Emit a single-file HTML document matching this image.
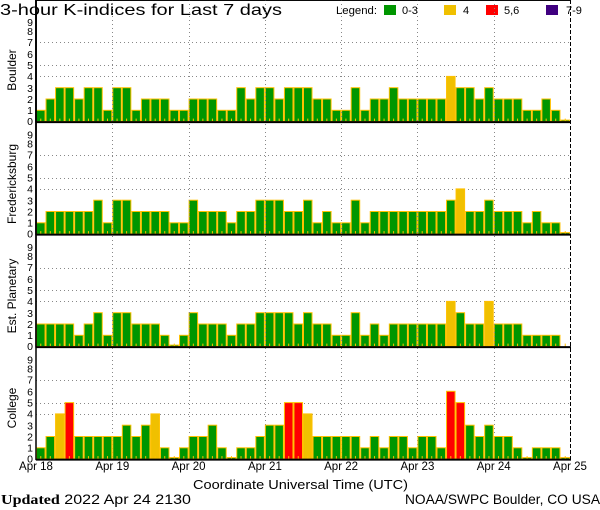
<!DOCTYPE html>
<html><head><meta charset="utf-8"><style>
html,body{margin:0;padding:0;background:#fff;}
svg{display:block;font-family:"Liberation Sans",sans-serif;}
</style></head><body>
<svg id="s" width="600" height="510" viewBox="0 0 600 510" xmlns="http://www.w3.org/2000/svg">
<rect width="600" height="510" fill="#fff"/>
<text x="0" y="15" font-size="16" fill="#000" textLength="282" lengthAdjust="spacingAndGlyphs">3-hour K-indices for Last 7 days</text>
<text x="336" y="14" font-size="11" fill="#000" textLength="41" lengthAdjust="spacingAndGlyphs">Legend:</text>
<rect x="384" y="5" width="12" height="10" fill="#009600"/><text x="402" y="14" font-size="11">0-3</text>
<rect x="444" y="5" width="12" height="10" fill="#f0c000"/><text x="463" y="14" font-size="11">4</text>
<rect x="486" y="5" width="12" height="10" fill="#ff0000"/><text x="504" y="14" font-size="11">5,6</text>
<rect x="546" y="5" width="12" height="10" fill="#400080"/><text x="566" y="14" font-size="11">7-9</text>
<g id="panels"></g>
<g font-size="11.5" text-anchor="middle">
<text x="36" y="470">Apr 18</text><text x="112.3" y="470">Apr 19</text><text x="188.6" y="470">Apr 20</text><text x="264.9" y="470">Apr 21</text><text x="341.1" y="470">Apr 22</text><text x="417.4" y="470">Apr 23</text><text x="493.7" y="470">Apr 24</text><text x="570" y="470">Apr 25</text>
</g>
<text x="193" y="489" font-size="13" textLength="215" lengthAdjust="spacingAndGlyphs">Coordinate Universal Time (UTC)</text>
<text x="1" y="504" font-size="13.5" textLength="190" lengthAdjust="spacingAndGlyphs"><tspan font-family="Liberation Serif,serif" font-weight="bold">Updated</tspan> 2022 Apr 24 2130</text>
<text x="405" y="504" font-size="13.5" textLength="195" lengthAdjust="spacingAndGlyphs">NOAA/SWPC Boulder, CO USA</text>
<g font-size="12" text-anchor="middle">
<text transform="translate(16,70) rotate(-90)">Boulder</text>
<text transform="translate(16,184) rotate(-90)">Fredericksburg</text>
<text transform="translate(16,296) rotate(-90)">Est. Planetary</text>
<text transform="translate(16,408) rotate(-90)">College</text>
</g>
<g id="yl" font-size="10.5" text-anchor="end">
<g transform="translate(0,0)"><text x="33" y="125">0</text><text x="33" y="114">1</text><text x="33" y="103">2</text><text x="33" y="92">3</text><text x="33" y="80">4</text><text x="33" y="69">5</text><text x="33" y="58">6</text><text x="33" y="46">7</text><text x="33" y="35">8</text><text x="33" y="26">9</text></g>
<g transform="translate(0,112.5)"><text x="33" y="125">0</text><text x="33" y="114">1</text><text x="33" y="103">2</text><text x="33" y="92">3</text><text x="33" y="80">4</text><text x="33" y="69">5</text><text x="33" y="58">6</text><text x="33" y="46">7</text><text x="33" y="35">8</text><text x="33" y="26">9</text></g>
<g transform="translate(0,225)"><text x="33" y="125">0</text><text x="33" y="114">1</text><text x="33" y="103">2</text><text x="33" y="92">3</text><text x="33" y="80">4</text><text x="33" y="69">5</text><text x="33" y="58">6</text><text x="33" y="46">7</text><text x="33" y="35">8</text><text x="33" y="26">9</text></g>
<g transform="translate(0,337.5)"><text x="33" y="125">0</text><text x="33" y="114">1</text><text x="33" y="103">2</text><text x="33" y="92">3</text><text x="33" y="80">4</text><text x="33" y="69">5</text><text x="33" y="58">6</text><text x="33" y="46">7</text><text x="33" y="35">8</text><text x="33" y="26">9</text></g>
</g>
</svg>
<script>
var D=[
[1,2,3,3,2,3,3,1, 3,3,1,2,2,2,1,1, 2,2,2,1,1,3,2,3, 3,2,3,3,3,2,2,1, 1,3,1,2,2,3,2,2, 2,2,2,4,3,3,2,3, 2,2,2,1,1,2,1,0],
[1,2,2,2,2,2,3,1, 3,3,2,2,2,2,1,1, 3,2,2,2,1,2,2,3, 3,3,2,2,3,1,2,1, 1,3,1,2,2,2,2,2, 2,2,2,3,4,2,2,3, 2,2,2,1,2,1,1,0],
[2,2,2,2,1,2,3,1, 3,3,2,2,2,1,0,1, 3,2,2,2,1,2,2,3, 3,3,3,2,3,2,2,1, 1,3,1,2,1,2,2,2, 2,2,2,4,3,2,2,4, 2,2,2,1,1,1,1,null],
[1,2,4,5,2,2,2,2, 2,3,2,3,4,1,0,1, 2,2,3,1,0,1,1,2, 3,3,5,5,4,2,2,2, 2,2,1,2,1,2,2,1, 2,2,1,6,5,3,2,3, 2,2,1,0,1,1,1,0]];
var NS="http://www.w3.org/2000/svg",g=document.getElementById("panels");
function el(t,a){var e=document.createElementNS(NS,t);for(var k in a)e.setAttribute(k,a[k]);g.appendChild(e);return e;}
var x0=36,x1=570,bw=(x1-x0)/56,u=11.3;
for(var p=0;p<4;p++){
 var base=121.6+p*112.5,top=base-9*u;
 [4,5,7].forEach(function(v){var y=Math.round(base-v*u)+0.5;el("line",{x1:x0,x2:x1,y1:y,y2:y,stroke:"#888","stroke-width":1,"stroke-dasharray":"1,3"});});
 for(var d=1;d<7;d++){var x=Math.round(x0+d*76.29)+0.5;el("line",{x1:x,x2:x,y1:top,y2:base,stroke:"#888","stroke-width":1,"stroke-dasharray":"1,3"});}
 for(var i=0;i<56;i++){
  var v=D[p][i],x=x0+i*bw;
  if(v!==null){
   var h=v==0?1.5:v*u;
   var c=v<=3?"#009600":v==4?"#f0c000":v<=6?"#ff0000":"#400080";
   el("rect",{x:x+0.5,y:base-h,width:bw-1,height:h,fill:c,stroke:"#ffc000","stroke-width":1});
  }
  el("rect",{x:x+bw/2-0.5,y:base-3,width:1,height:3,fill:"#ffc000"});
 }
 el("line",{x1:x0,x2:x1,y1:top,y2:top,stroke:"#000","stroke-width":1.5});
 el("line",{x1:x0,x2:x1+1,y1:base+0.5,y2:base+0.5,stroke:"#000","stroke-width":2});
 el("line",{x1:x0,x2:x0,y1:top,y2:base+1,stroke:"#000","stroke-width":1.5});
 el("line",{x1:x1+0.5,x2:x1+0.5,y1:top,y2:base,stroke:"#000","stroke-width":1,"stroke-dasharray":"4,2"});
}
</script>
</body></html>
